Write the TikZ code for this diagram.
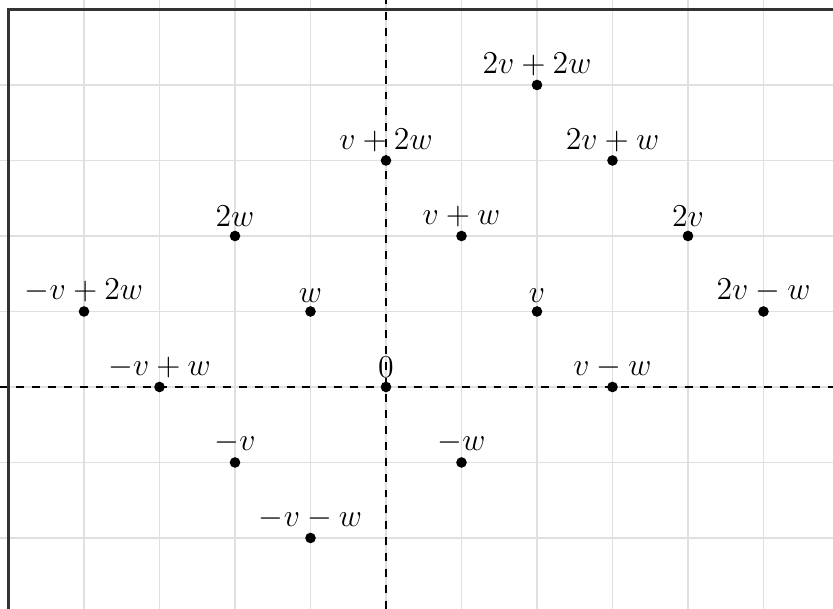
\documentclass[tikz,border=0pt]{standalone}
\begin{document}
\begin{tikzpicture}[x=1cm,y=1cm,
  gridline/.style={draw=black!12,line width=0.6pt},
  axisline/.style={draw=black,dashed,line width=0.5pt},
  pt/.style={circle,fill=black,inner sep=0pt,minimum size=4pt},
  lab/.style={font=\fontsize{13}{15}\selectfont,inner sep=1pt}]
\useasboundingbox (-5.113,-2.94) rectangle (5.921,5.126);
\foreach \x in {-4,...,5} \draw[gridline] (\x,-2.94) -- (\x,5.126);
\foreach \y in {-2,...,4} \draw[gridline] (-5.113,\y) -- (5.921,\y);
\coordinate (xl) at (-5.113,0); \coordinate (xr) at (5.921,0);
\coordinate (yb) at (0,-2.94); \coordinate (yt) at (0,5.126);
\draw[axisline] (xl) -- (xr);
\draw[axisline] (yb) -- (yt);
\coordinate (fb) at (-5,-2.94); \coordinate (fc) at (-5,5); \coordinate (fr) at (5.921,5);
\draw[black!80,line width=0.8pt] (fb) -- (fc) -- (fr);
\foreach \p/\q/\t in {0/0/{0}, 2/1/{v}, -1/1/{w}, 4/2/{2v}, -2/2/{2w}, 1/2/{v+w}, 0/3/{v+2w}, 3/3/{2v+w}, 2/4/{2v+2w}, -2/-1/{-v}, 1/-1/{-w}, -1/-2/{-v-w}, 3/0/{v-w}, 5/1/{2v-w}, -3/0/{-v+w}, -4/1/{-v+2w}}
  \node[pt,label={[lab]above:$\t$}] at (\p,\q) {};
\end{tikzpicture}
\end{document}
